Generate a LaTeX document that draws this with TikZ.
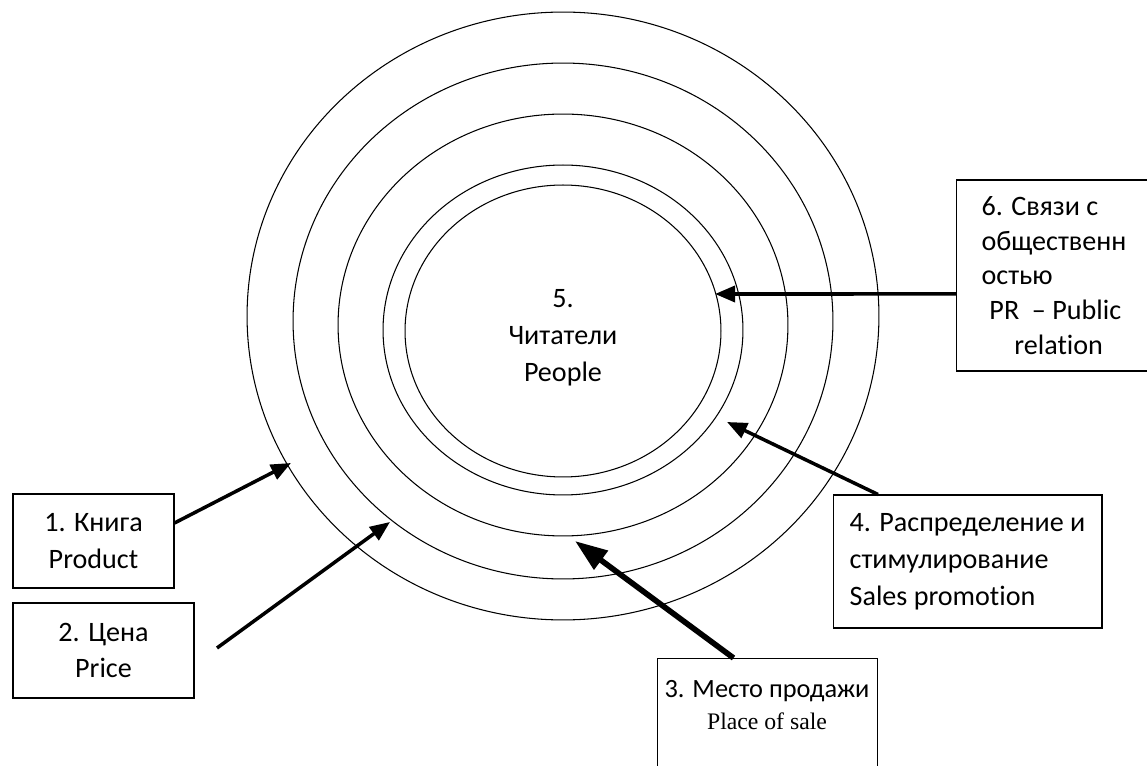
\documentclass[tikz,border=0pt]{standalone}
\usepackage{fontspec}
\setmainfont{Carlito}[Ligatures=NoCommon]
\newfontfamily\timesf{Liberation Serif}
\usetikzlibrary{arrows.meta}
\begin{document}
\begin{tikzpicture}[x=0.02cm,y=-0.02cm,
  box/.style={draw, line width=0.6pt, inner sep=0pt, font=\fontsize{16}{21}\selectfont},
  ring/.style={line width=0.6pt},
  arr/.style={line width=2pt, -{Triangle[length=0.4cm,width=0.32cm]}},
  bigarr/.style={line width=3.2pt, -{Triangle[length=0.65cm,width=0.45cm]}},
  txt/.style={font=\fontsize{16}{21}\selectfont, inner sep=0pt}]
\useasboundingbox (0,0) rectangle (1147,766);
% rings
\draw[ring] (563,316) ellipse [x radius=6.32cm, y radius=6.08cm];
\draw[ring] (563,321) ellipse [x radius=5.4cm, y radius=5.16cm];
\draw[ring] (563,325) ellipse [x radius=4.5cm, y radius=4.22cm];
\draw[ring] (563,330) ellipse [x radius=3.6cm, y radius=3.3cm];
\draw[ring] (563,331) ellipse [x radius=3.16cm, y radius=2.92cm];
\node[txt, align=center] (c5) at (563,338) {5.\\Читатели\\People};
% boxes
\node[box, minimum width=3.22cm, minimum height=1.88cm, align=center] (b1) at (93.5,541) {1. Книга\\Product};
\node[box, minimum width=3.62cm, minimum height=1.9cm, align=center] (b2) at (103.5,650.5) {2. Цена\\Price};
\node[box, minimum width=5.38cm, minimum height=2.66cm, align=left] (b4) at (967.5,561.5) {4. Распределение и\\стимулирование\\Sales promotion};
\node[box, minimum width=3.9cm, minimum height=3.82cm, align=left, font=\fontsize{16}{19.8}\selectfont] (b6) at (1054,275.5) {6. Связи с\\общественн\\остью\\\hspace*{4.5pt}PR\ \ – Public\\\hspace*{18.7pt}relation};
\node[box, anchor=north west, minimum width=4.4cm, minimum height=3cm] (b3) at (657,658) {};
\node[txt, align=center] (t3) at (767,705) {{\fontsize{15}{20}\selectfont 3. Место продажи}\\[-3pt]{\timesf\fontsize{13.5}{16}\selectfont Place of sale}};
% connectors
\coordinate (e1) at (291,463);
\draw[arr] ([yshift=0.36cm]b1.east) -- (e1);
\coordinate (s2) at (217,648);
\coordinate (e2) at (390,522);
\draw[arr] (s2) -- (e2);
\coordinate (e3) at (575,541);
\draw[bigarr] ([xshift=-0.68cm]b3.north) -- (e3);
\coordinate (e4) at (727,422);
\draw[arr] ([xshift=-1.79cm]b4.north) -- (e4);
\coordinate (e6) at (715,294);
\draw[arr] ([yshift=-0.37cm]b6.west) -- (e6);
\end{tikzpicture}
\end{document}
